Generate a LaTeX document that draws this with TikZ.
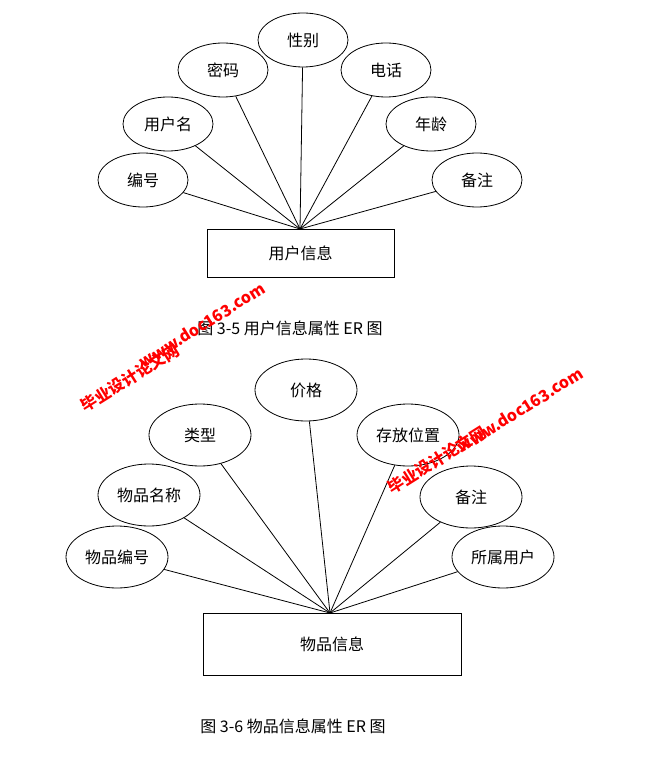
\documentclass[tikz,border=0pt]{standalone}
\usepackage{fontspec}
\newfontfamily\cjk{Noto Sans CJK SC}
\usetikzlibrary{shapes.geometric}
\begin{document}
\begin{tikzpicture}[x=0.5pt,y=-0.5pt,
  attr/.style={draw,ellipse,inner sep=0pt,font=\cjk\fontsize{8}{9}\selectfont},
  sa/.style={attr,minimum width=45pt,minimum height=27pt},
  la/.style={attr,minimum width=51pt,minimum height=31pt},
  ent/.style={draw,inner sep=0pt,font=\cjk\fontsize{8}{9}\selectfont},
  captxt/.style={font=\cjk\fontsize{8}{9}\selectfont},
  wm/.style={font=\cjk\bfseries\fontsize{8}{9}\selectfont,text=red,rotate=32}]
\useasboundingbox[fill=white] (0,0) rectangle (669,775);
% top
\node[sa] (xb) at (303,40) {性别};
\node[sa] (mm) at (223,70) {密码};
\node[sa] (dh) at (386,70) {电话};
\node[sa] (yhm) at (168,124) {用户名};
\node[sa] (nl) at (431,124) {年龄};
\node[sa] (bh) at (143,180) {编号};
\node[sa] (bz) at (477,180) {备注};
\node[ent,minimum width=93.5pt,minimum height=24pt] (yh) at (300.5,253) {用户信息};
\coordinate (c1) at (300,229);
\foreach \n in {xb,mm,dh,yhm,nl,bh,bz} \draw (\n) -- (c1);
\node[captxt] (cap1) at (290,328) {图 3-5 用户信息属性 ER 图};
% bottom
\node[la] (jg) at (306,390) {价格};
\node[la] (lx) at (200,435) {类型};
\node[la] (cf) at (408,435) {存放位置};
\node[la] (mc) at (149,495) {物品名称};
\node[la] (bz2) at (471,497) {备注};
\node[la] (wb) at (117,557) {物品编号};
\node[la] (ss) at (503,557) {所属用户};
\node[ent,minimum width=129pt,minimum height=31pt] (wp) at (332,644) {物品信息};
\coordinate (c2) at (330,613);
\foreach \n in {jg,lx,cf,mc,bz2,wb,ss} \draw (\n) -- (c2);
\node[captxt] (cap2) at (293,726) {图 3-6 物品信息属性 ER 图};
% watermarks
\node[wm] (w1) at (130,378) {毕业设计论文网};
\node[wm] (w2) at (202,325) {www.doc163.com};
\node[wm] (w3) at (437,460) {毕业设计论文网};
\node[wm] (w4) at (520,410) {www.doc163.com};
\end{tikzpicture}
\end{document}
